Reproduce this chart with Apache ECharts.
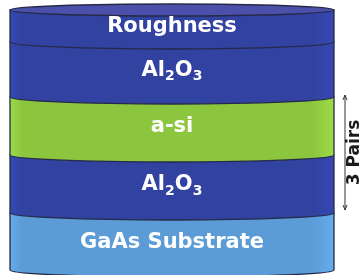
<!DOCTYPE html>
<html>
<head>
<meta charset="utf-8">
<script src="https://cdn.jsdelivr.net/npm/echarts@6/dist/echarts.min.js"></script>
<style>
  html, body { margin: 0; padding: 0; background: #fff; }
  #chart { width: 362px; height: 275px; }
</style>
</head>
<body>
<div id="chart"></div>
<script>
// layers listed top to bottom, thickness in y-axis units (axis runs down from the top)
var layerNames = ['Roughness', 'Al2O3', 'a-si', 'Al2O3', 'GaAs Substrate'];
var layerThickness = [32, 55, 58, 58, 57];
var stackTop = 10;
var cylinderSpan = [10, 334];
// "3 Pairs" bracket
var pairsLabel = '3 Pairs';
var pairsX = 345;
var pairsRange = [95, 210];

var layerColors = ['#3142a0', '#3142a0', '#8cc63f', '#3142a0', '#5b9bd6'];
var SAG = 7;

function fmtName (name) {
  if (name === 'Al2O3') return '{n|Al}{s|2}{n|O}{s|3}';
  return '{n|' + name + '}';
}

// build [index, top, bottom] rows from the thickness list
var layerRows = [];
var y = stackTop;
layerThickness.forEach(function (t, i) {
  layerRows.push([i, y, y + t]);
  y += t;
});
// draw from bottom layer up so each band's curved bottom overlaps the one below
var drawRows = layerRows.slice().reverse();

function bandGradient (c) {
  var dark = echarts.color.lift(c, -0.12);
  return new echarts.graphic.LinearGradient(0, 0, 1, 0, [
    { offset: 0, color: dark },
    { offset: 0.04, color: c },
    { offset: 0.93, color: c },
    { offset: 1, color: dark }
  ]);
}

function renderLayer (params, api) {
  var i = api.value(0);
  var pL = api.coord([cylinderSpan[0], api.value(1)]);
  var pR = api.coord([cylinderSpan[1], api.value(2)]);
  var L = pL[0], T = pL[1], R = pR[0], B = pR[1];
  var cx = (L + R) / 2, rx = (R - L) / 2, ry = SAG, k = 0.5523;
  var d = 'M' + L + ' ' + T + ' L' + R + ' ' + T + ' L' + R + ' ' + B +
    ' C' + R + ' ' + (B + k * ry) + ' ' + (cx + k * rx) + ' ' + (B + ry) + ' ' + cx + ' ' + (B + ry) +
    ' C' + (cx - k * rx) + ' ' + (B + ry) + ' ' + L + ' ' + (B + k * ry) + ' ' + L + ' ' + B + ' Z';
  var children = [{
    type: 'path',
    shape: { pathData: d },
    style: { fill: bandGradient(layerColors[i]), stroke: '#262a48', lineWidth: 1.3 }
  }];
  if (i === 0) {
    children.push({
      type: 'ellipse',
      shape: { cx: cx, cy: T, rx: rx, ry: ry - 1 },
      style: { fill: '#4b51aa', stroke: '#262a48', lineWidth: 1.3 }
    });
  }
  children.push({
    type: 'text',
    style: {
      text: fmtName(layerNames[i]),
      x: cx,
      y: (T + B) / 2 + 1,
      align: 'center',
      verticalAlign: 'middle',
      fill: '#fff',
      rich: {
        n: { fontFamily: 'DejaVu Sans', fontWeight: 'bold', fontSize: 21, lineHeight: 26, color: '#fff' },
        s: { fontFamily: 'DejaVu Sans', fontWeight: 'bold', fontSize: 14, lineHeight: 14, color: '#fff', verticalAlign: 'bottom' }
      }
    }
  });
  return { type: 'group', children: children };
}

function renderPairs (params, api) {
  var p0 = api.coord([api.value(0), api.value(1)]);
  var p1 = api.coord([api.value(0), api.value(2)]);
  var x = p0[0];
  return {
    type: 'group',
    children: [
      { type: 'line', shape: { x1: x, y1: p0[1], x2: x, y2: p1[1] }, style: { stroke: '#333', lineWidth: 1 } },
      { type: 'polyline', shape: { points: [[x - 2, p0[1] + 5], [x, p0[1]], [x + 2, p0[1] + 5]] }, style: { stroke: '#333', lineWidth: 1, fill: null } },
      { type: 'polyline', shape: { points: [[x - 2, p1[1] - 5], [x, p1[1]], [x + 2, p1[1] - 5]] }, style: { stroke: '#333', lineWidth: 1, fill: null } },
      {
        type: 'text',
        x: x + 10,
        y: (p0[1] + p1[1]) / 2,
        rotation: Math.PI / 2,
        style: {
          text: pairsLabel,
          x: 0, y: 0,
          align: 'center',
          verticalAlign: 'middle',
          fill: '#1a1a1a',
          font: 'bold 17px "DejaVu Sans"'
        }
      }
    ]
  };
}

var chart = echarts.init(document.getElementById('chart'));
chart.setOption({
  animation: false,
  grid: { left: 0, right: 0, top: 0, bottom: 0 },
  xAxis: { type: 'value', min: 0, max: 362, show: false },
  yAxis: { type: 'value', min: 0, max: 275, inverse: true, show: false },
  series: [
    { type: 'custom', renderItem: renderLayer, data: drawRows, silent: true },
    { type: 'custom', renderItem: renderPairs, data: [[pairsX, pairsRange[0], pairsRange[1]]], silent: true }
  ]
});
</script>
</body>
</html>
